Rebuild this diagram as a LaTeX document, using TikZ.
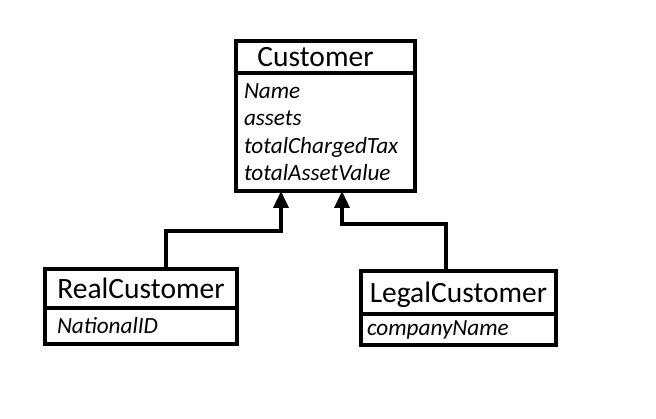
\documentclass[tikz,border=0pt]{standalone}
\usepackage{fontspec}
\setmainfont{Carlito}
\usetikzlibrary{arrows.meta}
\tikzset{
    classbox/.style={draw, line width=3.5pt, outer sep=0pt, inner sep=0pt},
    classname/.style={classbox, font=\fontsize{29.5}{34}\selectfont, text height=24pt, text depth=4pt},
    classattr/.style={classbox, font=\fontsize{23.2}{27.5}\selectfont\itshape, align=left, anchor=north},
    generalization/.style={line width=3.5pt, -{Triangle[width=15pt,length=17pt]}}
}

\begin{document}
\begin{tikzpicture}[x=1pt, y=-1pt]
    \useasboundingbox (0,0) rectangle (656,419);

    % Superclass
    \node[classname, minimum width=179pt, minimum height=32pt] (customer) at (325.5,57) {Customer\hspace*{20pt}};
    \node[classattr, minimum height=118pt, text width=163pt, inner xsep=8pt] (customerattr) at (customer.south)
        {Name\\assets\\totalChargedTax\\totalAssetValue};

    % Subclasses
    \node[classname, minimum width=192pt, minimum height=39pt] (real) at (141,288.5) {RealCustomer};
    \node[classattr, minimum height=36pt, text width=168pt, inner xsep=12pt] (realattr) at (real.south) {NationalID};

    \node[classname, minimum width=195pt, minimum height=43pt] (legal) at (458.5,292.5) {LegalCustomer};
    \node[classattr, minimum height=31pt, text width=183pt, inner xsep=6pt] (legalattr) at (legal.south) {companyName};

    % Bends of the connectors
    \coordinate (realbend) at (166,231);
    \coordinate (realtip) at (281,231);
    \coordinate (legalbend) at (446,224);
    \coordinate (legaltip) at (342,224);

    % Inheritance
    \draw[generalization] (realbend |- real.north) -- (realbend) -- (realtip) -- (realtip |- customerattr.south);
    \draw[generalization] (legalbend |- legal.north) -- (legalbend) -- (legaltip) -- (legaltip |- customerattr.south);
\end{tikzpicture}
\end{document}
